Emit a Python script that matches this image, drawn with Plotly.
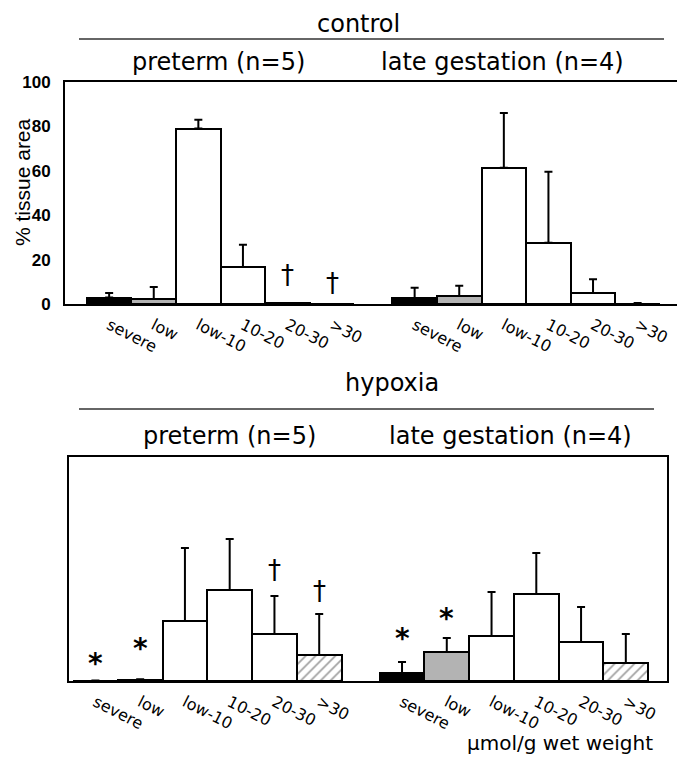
import plotly.graph_objects as go

# ---------------- data ----------------
categories = ["severe", "low", "low-10", "10-20", "20-30", ">30"]
groups = ["preterm (n=5)", "late gestation (n=4)"]

control_preterm = [2.9, 2.3, 79.0, 16.7, 0.3, 0.0]
control_preterm_err = [2.1, 5.4, 4.0, 10.0, 0.0, None]
control_late = [2.7, 3.6, 61.4, 27.6, 4.9, 0.2]
control_late_err = [4.6, 4.6, 24.6, 32.0, 6.3, 0.3]

hypoxia_preterm = [0.2, 0.5, 26.8, 40.6, 21.0, 11.6]
hypoxia_preterm_err = [0.0, 0.3, 32.6, 22.8, 17.0, 18.3]
hypoxia_late = [3.6, 12.9, 20.1, 38.8, 17.4, 8.0]
hypoxia_late_err = [4.9, 6.3, 19.6, 18.3, 15.6, 13.0]

y_ticks = [0, 20, 40, 60, 80, 100]

# significance markers: (panel, group index, category index, symbol, y)
markers = [
    ("control", 0, 4, "†", 13),
    ("control", 0, 5, "†", 9.5),
    ("hypoxia", 0, 0, "*", 8),
    ("hypoxia", 0, 1, "*", 14.7),
    ("hypoxia", 0, 4, "†", 49.6),
    ("hypoxia", 0, 5, "†", 40),
    ("hypoxia", 1, 0, "*", 19),
    ("hypoxia", 1, 1, "*", 28),
]

# ---------------- styles ----------------
bar_colors = ["black", "#b3b3b3", "white", "white", "white", "white"]
control_patterns = ["", "", "", "", "", ""]
hypoxia_patterns = ["", "", "", "", "", "/"]
GROUP_GAP = 0.85
W, H = 685, 761
OFF = 8  # page offset of the plot inside the browser window


def pos(g, i):
    return i + g * (len(categories) + GROUP_GAP)


def px_x(p):
    return (p - OFF) / W


def px_y(p):
    return 1 - (p - OFF) / H


fig = go.Figure()

panels = [
    ("control", "x", "y", [control_preterm, control_late],
     [control_preterm_err, control_late_err], control_patterns),
    ("hypoxia", "x2", "y2", [hypoxia_preterm, hypoxia_late],
     [hypoxia_preterm_err, hypoxia_late_err], hypoxia_patterns),
]

for name, xa, ya, vals, errs, pats in panels:
    for g in range(2):
        fig.add_trace(go.Bar(
            x=[pos(g, i) for i in range(len(categories))],
            y=vals[g],
            width=1.0,
            xaxis=xa, yaxis=ya,
            marker=dict(color=bar_colors,
                        line=dict(color="black", width=2),
                        pattern=dict(shape=pats, fgcolor="#333333",
                                     bgcolor="white", size=7, solidity=0.25,
                                     fillmode="overlay")),
            error_y=dict(type="data", symmetric=False, array=errs[g],
                         arrayminus=[0] * len(categories),
                         color="black", thickness=2, width=4),
            showlegend=False,
            hoverinfo="skip",
        ))

tickvals = [pos(g, i) for g in range(2) for i in range(len(categories))]
ticktext = categories * 2

common_x = dict(showline=True, linecolor="black", linewidth=2, mirror=True,
                tickvals=tickvals, ticktext=ticktext, tickangle=27,
                tickfont=dict(family="DejaVu Sans", size=16, color="black"),
                ticklabelstandoff=4,
                ticks="", showgrid=False, zeroline=False, automargin=False)
common_y = dict(showline=True, linecolor="black", linewidth=2, mirror=True,
                range=[0, 100], tickvals=y_ticks, showgrid=False,
                zeroline=False, ticks="", automargin=False)

fig.update_layout(
    width=W, height=H, margin=dict(l=0, r=0, t=0, b=0, autoexpand=False),
    paper_bgcolor="white", plot_bgcolor="white", bargap=0,
    xaxis=dict(domain=[px_x(65), px_x(680)], range=[-0.99, 12.8],
               anchor="y", **common_x),
    yaxis=dict(domain=[px_y(304), px_y(82)], anchor="x",
               tickfont=dict(family="Liberation Sans, Arial", size=17,
                             color="black", weight="bold"),
               ticklabelstandoff=9, **common_y),
    xaxis2=dict(domain=[px_x(69), px_x(667)], range=[-0.59, 12.77],
                anchor="y2", **common_x),
    yaxis2=dict(domain=[px_y(681), px_y(457)], anchor="x2",
                showticklabels=False, **common_y),
)

ann = []
title_font = dict(family="DejaVu Sans", size=24, color="black")
# headings
for text, x, y in [("control", 358, 24), ("hypoxia", 392, 383)]:
    ann.append(dict(text=text, x=px_x(x), y=px_y(y), xref="paper", yref="paper",
                    xanchor="center", yanchor="middle", showarrow=False,
                    font=title_font))
for (gx, gy) in [((218, 502), 62), ((229, 510), 436)]:
    for gi, g in enumerate(groups):
        ann.append(dict(text=g, x=px_x(gx[gi]), y=px_y(gy), xref="paper",
                        yref="paper", xanchor="center", yanchor="middle",
                        showarrow=False, font=title_font))
# y title
ann.append(dict(text="% tissue area", x=px_x(22), y=px_y(182), xref="paper",
                yref="paper", textangle=-90, xanchor="center", yanchor="middle",
                showarrow=False,
                font=dict(family="Liberation Sans, Arial", size=21, color="black")))
# unit label
ann.append(dict(text="μmol/g wet weight", x=px_x(655), y=px_y(743), xref="paper",
                yref="paper", xanchor="right", yanchor="middle", showarrow=False,
                font=dict(family="DejaVu Sans", size=20, color="black")))
# significance markers
for panel, g, i, sym, yv in markers:
    xr, yr = ("x", "y") if panel == "control" else ("x2", "y2")
    is_star = sym == "*"
    ann.append(dict(text=sym, x=pos(g, i), y=yv, xref=xr, yref=yr,
                    xanchor="center", yanchor="middle", showarrow=False,
                    font=dict(family="DejaVu Sans", size=28 if is_star else 26,
                              color="black",
                              weight="bold" if is_star else "normal")))
fig.update_layout(annotations=ann)

fig.update_layout(shapes=[
    dict(type="line", xref="paper", yref="paper", x0=px_x(79), x1=px_x(664),
         y0=px_y(39), y1=px_y(39), line=dict(color="#333333", width=1.5)),
    dict(type="line", xref="paper", yref="paper", x0=px_x(79), x1=px_x(654),
         y0=px_y(409), y1=px_y(409), line=dict(color="#333333", width=1.5)),
])

fig.write_html("out.html")
